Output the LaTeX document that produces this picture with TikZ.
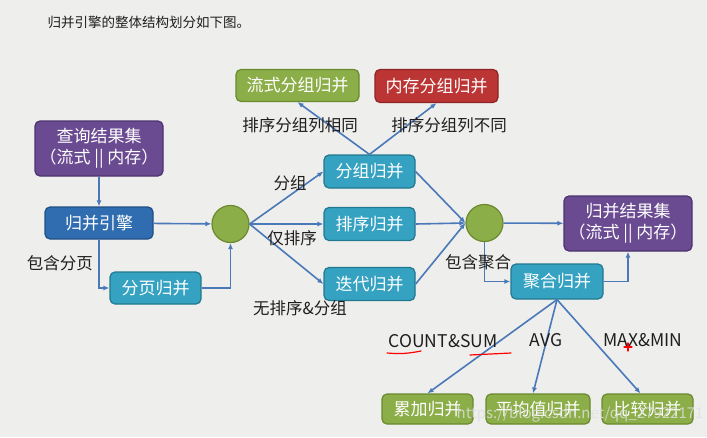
\documentclass[tikz,border=0pt]{standalone}
\usepackage{fontspec}
\setmainfont{Noto Sans CJK SC}
\usetikzlibrary{arrows.meta,positioning,calc}
\definecolor{Paper}{HTML}{EEEEEC}
\definecolor{Ink}{HTML}{1E1E1E}
\definecolor{Wire}{HTML}{4A78B8}
\definecolor{Olive}{HTML}{8CAE48}
\definecolor{OliveDark}{HTML}{6A8A2E}
\definecolor{Crimson}{HTML}{BC3535}
\definecolor{CrimsonDark}{HTML}{8E2424}
\definecolor{Plum}{HTML}{6A4A90}
\definecolor{PlumDark}{HTML}{4C3370}
\definecolor{Navy}{HTML}{2F6DB0}
\definecolor{NavyDark}{HTML}{214F85}
\definecolor{Cyan}{HTML}{35A2C2}
\definecolor{CyanDark}{HTML}{22788F}
\tikzset{
  flow/.style={draw,line width=1.2pt,rounded corners=5pt,align=center,inner sep=2pt,text=white,font=\fontsize{17}{21}\selectfont},
  flowgreen/.style={flow,draw=OliveDark,fill=Olive},
  flowred/.style={flow,draw=CrimsonDark,fill=Crimson},
  flowpurple/.style={flow,draw=PlumDark,fill=Plum},
  flowblue/.style={flow,draw=NavyDark,fill=Navy},
  flowteal/.style={flow,draw=CyanDark,fill=Cyan},
  hub/.style={circle,draw=OliveDark,fill=Olive,line width=1.2pt,minimum size=37pt,inner sep=0pt},
  arrow/.style={-{Latex[length=6pt,width=5pt]},line width=1.6pt,draw=Wire},
  tag/.style={text=Ink,inner sep=1pt,font=\fontsize{16.5}{19}\selectfont},
  latintag/.style={tag,font=\fontsize{17.5}{20}\selectfont},
  scribble/.style={draw=red,line width=1.2pt,line cap=round}
}
\begin{document}
\begin{tikzpicture}[x=1pt,y=-1pt]
  \fill[Paper] (0,0) rectangle (707,437);
  \useasboundingbox (0,0) rectangle (707,437);
  \node[text=Ink,anchor=west,font=\fontsize{13.5}{16}\selectfont] (title) at (44,22) {归并引擎的整体结构划分如下图。};
  % upper part
  \node[flowpurple,minimum width=128pt,minimum height=55pt] (query) at (99,148.5) {查询结果集\\（流式 || 内存）};
  \node[flowblue,minimum width=108pt,minimum height=32pt] (engine) at (99,223) {归并引擎};
  \node[flowteal,minimum width=91pt,minimum height=32pt] (page) at (155.5,288) {分页归并};
  \node[hub] (hubA) at (230.5,224) {};
  \node[flowgreen,minimum width=123pt,minimum height=32pt] (stream) at (297.5,85.5) {流式分组归并};
  \node[flowred,minimum width=123pt,minimum height=33pt] (memory) at (436.5,86) {内存分组归并};
  \node[flowteal,minimum width=91pt,minimum height=33pt] (group) at (369.5,171.5) {分组归并};
  \node[flowteal,minimum width=91pt,minimum height=33pt] (sort) at (369.5,224) {排序归并};
  \node[flowteal,minimum width=91pt,minimum height=33pt] (iter) at (369.5,284) {迭代归并};
  \node[hub] (hubB) at (484.5,223) {};
  \node[flowpurple,minimum width=128pt,minimum height=55pt] (result) at (628,223.5) {归并结果集\\（流式 || 内存）};
  \node[flowteal,minimum width=92pt,minimum height=35pt] (agg) at (557,281.5) {聚合归并};
  % lower part
  \node[flowgreen,minimum width=91pt,minimum height=30pt] (sum) at (427.5,409) {累加归并};
  \node[flowgreen,minimum width=104pt,minimum height=30pt] (avg) at (538,409) {平均值归并};
  \node[flowgreen,minimum width=91pt,minimum height=30pt] (cmp) at (647.5,409) {比较归并};
  % connectors
  \draw[arrow] (query) -- (engine);
  \draw[arrow] (engine) -- (hubA);
  \draw[arrow] (engine.south) |- (page.west);
  \draw[arrow] (page.east) -| (hubA.south);
  \draw[arrow] (hubA.east) -- (group.west);
  \draw[arrow] (hubA.east) -- (sort.west);
  \draw[arrow] (hubA.east) -- (iter.west);
  \draw[arrow] (group.north) -- (stream.south);
  \draw[arrow] (group.north) -- (memory.south);
  \draw[arrow] (group.east) -- (hubB.west);
  \draw[arrow] (sort.east) -- (hubB.west);
  \draw[arrow] (iter.east) -- (hubB.west);
  \draw[arrow] (hubB) -- (result);
  \draw[arrow] (hubB.south) |- (agg.west);
  \draw[arrow] (agg.east) -| (result.south);
  \draw[arrow] (agg.south) -- (sum.north);
  \draw[arrow] (agg.south) -- ([xshift=-5pt]avg.north);
  \draw[arrow] (agg.south) -- ([xshift=-7pt]cmp.north);
  % labels
  \node[tag] (sameCols) at (300,125) {排序分组列相同};
  \node[tag] (diffCols) at (449,125) {排序分组列不同};
  \node[tag] (byGroup) at (290,183) {分组};
  \node[tag] (sortOnly) at (292,238) {仅排序};
  \node[tag] (noSort) at (300,308) {无排序\&分组};
  \node[tag] (hasPage) at (60,263) {包含分页};
  \node[tag] (hasAgg) at (478,262) {包含聚合};
  \node[latintag] (countSum) at (443,341) {COUNT\&SUM};
  \node[latintag] (avgTag) at (546,340) {AVG};
  \node[latintag] (maxMin) at (643,340) {MAX\&MIN};
  % hand marks
  \draw[scribble] (387,353) to[bend right=8] (421,351);
  \draw[scribble] (470,355) -- (511,353);
  \draw[scribble] (624,347) -- (632,347) (628,343) -- (628,351);
  \node[text=white!75!gray,opacity=.8,anchor=east,font=\fontsize{15}{18}\selectfont] (mark) at (707,414) {https://blog.csdn.net/qq\_27922171};
\end{tikzpicture}
\end{document}
